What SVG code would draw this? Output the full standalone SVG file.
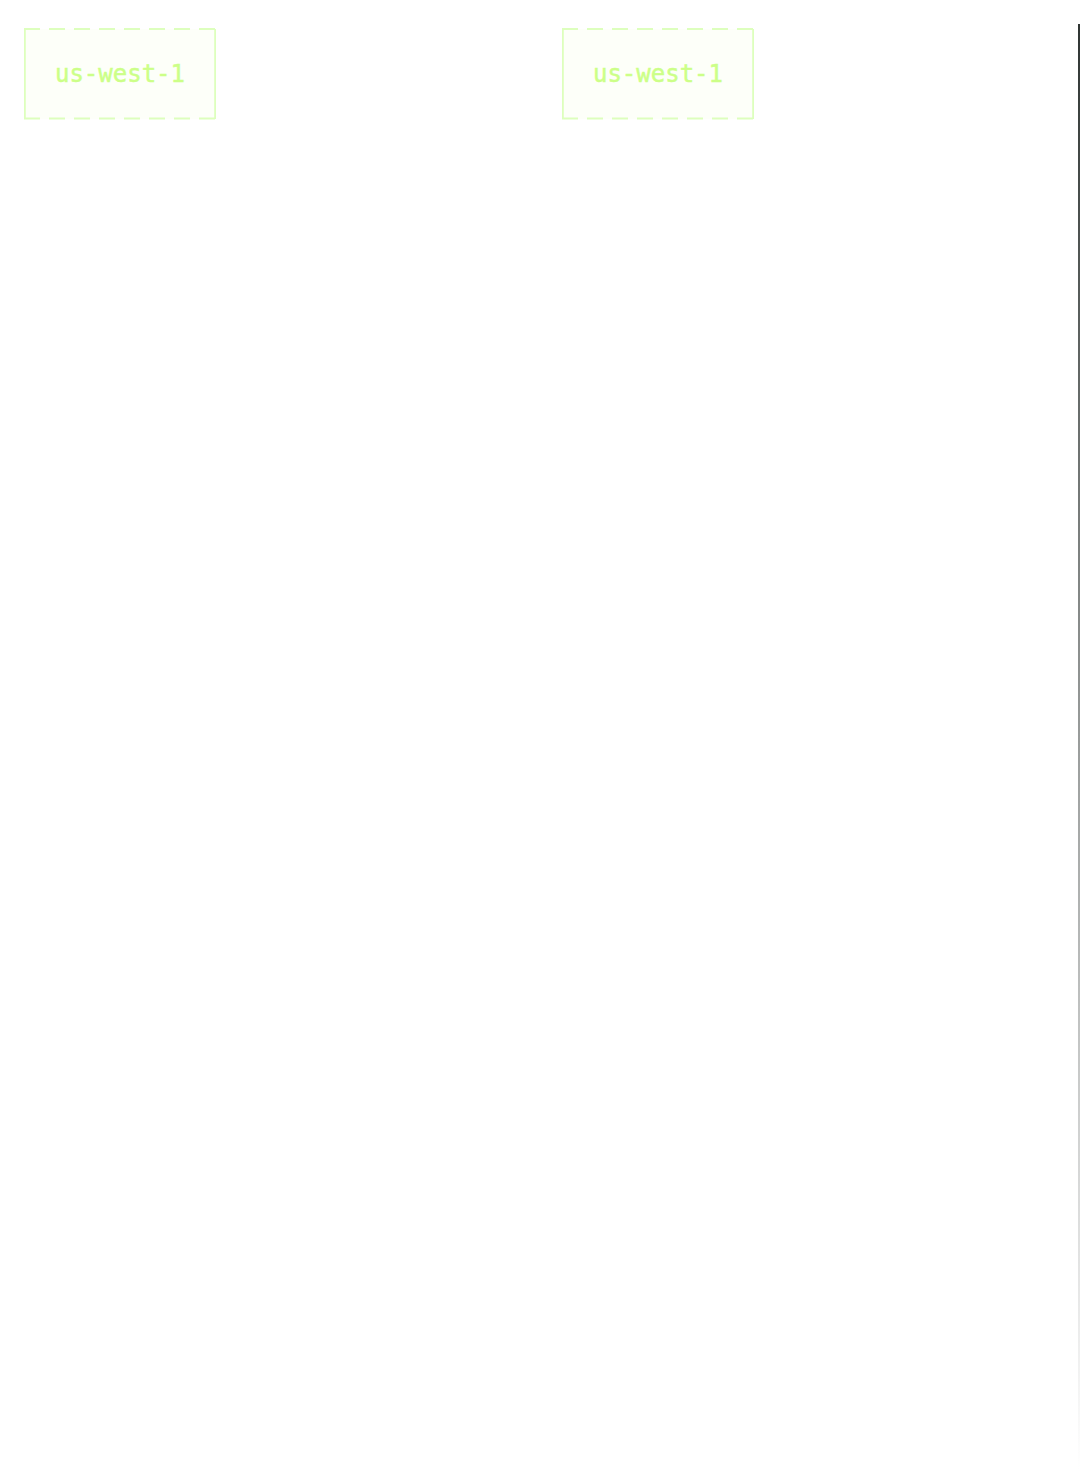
<svg xmlns="http://www.w3.org/2000/svg" width="1080" height="1470" viewBox="0 0 1080 1470">
  <defs>
    <linearGradient id="edge" x1="0" y1="0" x2="0" y2="1">
      <stop offset="0" stop-color="#2f3533"/>
      <stop offset="0.5" stop-color="#9a9d9c"/>
      <stop offset="1" stop-color="#ffffff"/>
    </linearGradient>
  </defs>
  <style>
    .zone-bg { fill: #fdfff9; stroke: none; }
    .zone-v { stroke: #ddffbd; stroke-width: 1.8; fill: none; }
    .zone-h { stroke: #ddffbd; stroke-width: 1.8; fill: none; stroke-dasharray: 16 9; }
    .zone-label { font-family: "DejaVu Sans Mono", "Liberation Mono", monospace; font-size: 24px; fill: #ccff88; stroke: #ccff88; stroke-width: 0.5; text-anchor: middle; }
  </style>
  <rect width="1080" height="1470" fill="#ffffff"/>
  <g id="region-left">
    <rect class="zone-bg" x="24.5" y="29" width="191" height="90"/>
    <line class="zone-h" x1="24" y1="29" x2="216" y2="29"/>
    <line class="zone-h" x1="24" y1="118.5" x2="216" y2="118.5"/>
    <line class="zone-v" x1="24.9" y1="29" x2="24.9" y2="119"/>
    <line class="zone-v" x1="215.1" y1="29" x2="215.1" y2="119"/>
    <text class="zone-label" x="120" y="82">us-west-1</text>
  </g>
  <g id="region-right">
    <rect class="zone-bg" x="562.5" y="29" width="191" height="90"/>
    <line class="zone-h" x1="562" y1="29" x2="754" y2="29"/>
    <line class="zone-h" x1="562" y1="118.5" x2="754" y2="118.5"/>
    <line class="zone-v" x1="562.9" y1="29" x2="562.9" y2="119"/>
    <line class="zone-v" x1="753.1" y1="29" x2="753.1" y2="119"/>
    <text class="zone-label" x="658" y="82">us-west-1</text>
  </g>
  <g id="connectors"/>
  <rect id="edge-strip" x="1078" y="24" width="2" height="1446" fill="url(#edge)"/>
</svg>
